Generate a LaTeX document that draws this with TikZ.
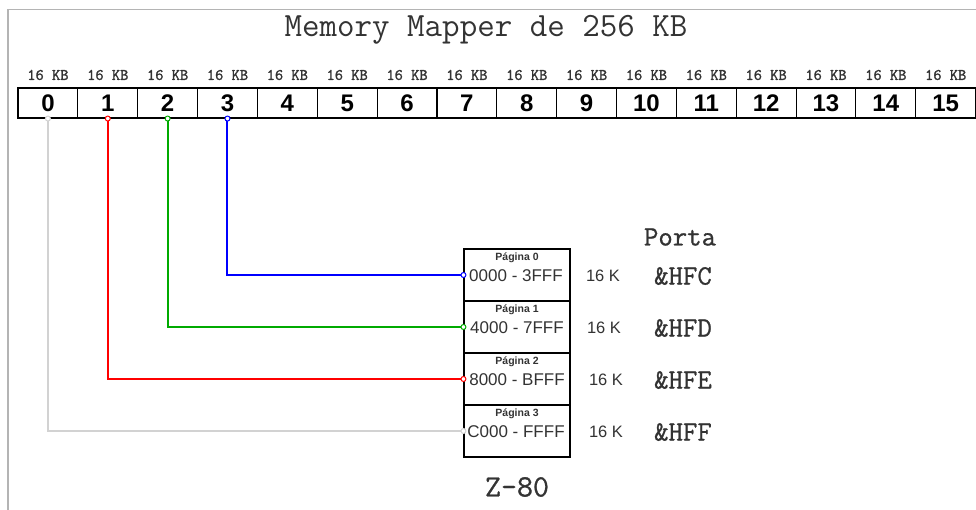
\documentclass[tikz,border=0pt]{standalone}
\usepackage{fontspec}
\setmainfont{Liberation Sans}
\newfontfamily\mono{Latin Modern Mono}
\newfontfamily\monob{Latin Modern Mono}[FakeBold=1.6]
\newfontfamily\monom{Latin Modern Mono}[FakeBold=0.9]
\definecolor{framegray}{HTML}{B4B4B4}
\definecolor{txtgray}{HTML}{333333}
\definecolor{lightline}{HTML}{D2D2D2}
\definecolor{lgreen}{HTML}{00AA00}
\definecolor{lred}{HTML}{FF0000}
\definecolor{lblue}{HTML}{0000FF}
\begin{document}
\begin{tikzpicture}[x=1pt,y=-1pt,
  cell/.style={draw=black,line width=1.1pt,minimum width=59.85pt,minimum height=30pt,inner sep=0pt,
    font=\fontsize{24}{24}\selectfont\bfseries},
  kb/.style={font=\monob\fontsize{16}{16}\selectfont,text=txtgray,inner sep=0pt},
  page/.style={draw=black,line width=1.1pt,minimum width=106pt,minimum height=52pt,inner sep=0pt},
  plbl/.style={font=\fontsize{10.5}{10.5}\selectfont\bfseries,text=txtgray,inner sep=0pt},
  rng/.style={font=\fontsize{17}{17}\selectfont,text=txtgray,inner sep=0pt},
  sz/.style={font=\fontsize{16.5}{16.5}\selectfont,text=txtgray,inner sep=0pt},
  port/.style={font=\monom\fontsize{28}{28}\selectfont,text=txtgray,inner sep=0pt},
  conn/.style={line width=2pt},
  dotm/.style={circle,draw,fill=white,line width=1pt,inner sep=0pt,minimum size=5pt}]
\useasboundingbox (0,0) rectangle (976,510);
\begin{scope}
\clip (0,0) rectangle (976,510);
% frame
\draw[framegray,line width=1.5pt] (8,510) -- (8,9.5) -- (980,9.5);
% title
\node[font=\mono\fontsize{34}{34}\selectfont,text=txtgray,inner sep=0pt] (title) at (486,30) {Memory Mapper de 256 KB};
% cells
\foreach \i in {0,...,15}{
  \node[cell] (c\i) at ({18+59.85*\i+29.925},103) {\i};
  \node[kb] (k\i) at ({18+59.85*\i+29.925},75) {16 KB};
}
\end{scope}
% Z80 pages
\node[page] (p0) at (517,275) {};
\node[page] (p1) at (517,327) {};
\node[page] (p2) at (517,379) {};
\node[page] (p3) at (517,431) {};
\node[plbl] (l0) at (517,258) {Página 0};
\node[plbl] (l1) at (517,310) {Página 1};
\node[plbl] (l2) at (517,362) {Página 2};
\node[plbl] (l3) at (517,414) {Página 3};
\node[rng] (r0) at (516,276) {0000 - 3FFF};
\node[rng] (r1) at (517,328) {4000 - 7FFF};
\node[rng] (r2) at (517,380) {8000 - BFFF};
\node[rng] (r3) at (516,432) {C000 - FFFF};
\node[sz] (s0) at (603,276) {16 K};
\node[sz] (s1) at (604,328) {16 K};
\node[sz] (s2) at (606,380) {16 K};
\node[sz] (s3) at (606,432) {16 K};
\node[port] (porta) at (680,237) {Porta};
\node[port] (h0) at (683,276) {\&HFC};
\node[port] (h1) at (683,328) {\&HFD};
\node[port] (h2) at (683,380) {\&HFE};
\node[port] (h3) at (683,432) {\&HFF};
\node[font=\monom\fontsize{31}{31}\selectfont,text=txtgray,inner sep=0pt] (z80) at (517,487) {Z-80};
% connectors
\draw[conn,lblue] (c3.south) |- (p0.west);
\draw[conn,lgreen] (c2.south) |- (p1.west);
\draw[conn,lred] (c1.south) |- (p2.west);
\draw[conn,lightline] (c0.south) |- (p3.west);
\node[dotm,draw=lblue] at (c3.south) {};
\node[dotm,draw=lblue] at (p0.west) {};
\node[dotm,draw=lgreen] at (c2.south) {};
\node[dotm,draw=lgreen] at (p1.west) {};
\node[dotm,draw=lred] at (c1.south) {};
\node[dotm,draw=lred] at (p2.west) {};
\node[dotm,draw=lightline] at (c0.south) {};
\node[dotm,draw=lightline] at (p3.west) {};
\end{tikzpicture}
\end{document}
